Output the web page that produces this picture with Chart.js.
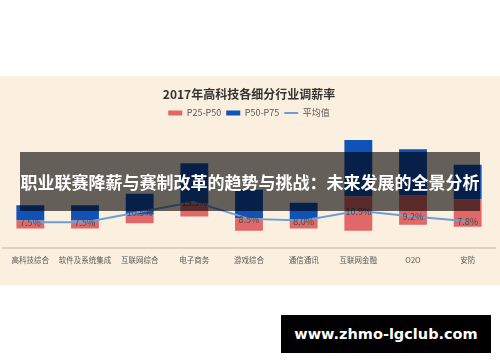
<!DOCTYPE html>
<html>
<head>
<meta charset="utf-8">
<script src="https://cdn.jsdelivr.net/npm/chart.js@4.4.0/dist/chart.umd.min.js"></script>
<style>
    body { margin: 0; background: #ffffff; }
    #page { position: relative; width: 500px; height: 362px; overflow: hidden; }
    #chartBox { position: absolute; left: 0; top: 76px; width: 500px; height: 209px; background: #fbf0df; }
    #banner {
        position: absolute; left: 20px; top: 152px; width: 460px; height: 59px;
        background: rgba(0, 0, 0, 0.6); color: #fff;
        font-family: "Noto Sans CJK SC", sans-serif; font-weight: bold; font-size: 17px;
        line-height: 59px; text-align: center; white-space: nowrap;
    }
    #mark {
        position: absolute; left: 281px; top: 315px; width: 210px; height: 38px;
        background: #000; color: #fff;
        font-family: "DejaVu Sans", sans-serif; font-weight: bold; font-size: 14.5px;
        line-height: 38px; text-align: center;
    }
</style>
</head>
<body>
<div id="page">
    <div id="chartBox"><canvas id="myChart" width="500" height="209"></canvas></div>
    <div id="banner">职业联赛降薪与赛制改革的趋势与挑战：未来发展的全景分析</div>
    <div id="mark">www.zhmo-lgclub.com</div>
</div>
<script>
// Categories and values (percent)
var categories = ['高科技综合', '软件及系统集成', '互联网综合', '电子商务', '游戏综合', '通信通讯', '互联网金融', 'O2O', '安防'];
var p25 = [5.7, 5.7, 7.2, 9.2, 5.0, 5.7, 5.0, 6.8, 6.2];
var p50 = [8.0, 8.0, 9.7, 13.0, 8.7, 8.3, 15.0, 15.5, 14.2];
var p75 = [12.5, 12.5, 15.8, 24.7, 17.0, 13.2, 31.5, 28.8, 24.3];
var average = [7.5, 7.5, 10.5, 13.5, 8.5, 8.0, 10.9, 9.2, 7.8];

var cjk = '"Noto Sans CJK SC", sans-serif';

// Build floating bar ranges
var lowRange = p25.map(function (v, i) { return [v, p50[i]]; });
var highRange = p50.map(function (v, i) { return [v, p75[i]]; });

// Plugin for the % labels on the average line
var avgLabels = {
    id: 'avgLabels',
    afterDatasetsDraw: function (chart) {
        var meta = chart.getDatasetMeta(2);
        var ctx = chart.ctx;
        ctx.save();
        ctx.font = '9px ' + cjk;
        ctx.fillStyle = '#4a4a4a';
        ctx.textAlign = 'center';
        ctx.textBaseline = 'middle';
        meta.data.forEach(function (pt, i) {
            ctx.fillText(average[i].toFixed(1) + '%', pt.x, pt.y + 0.5);
        });
        ctx.restore();
    }
};

var ctx = document.getElementById('myChart').getContext('2d');
var chart = new Chart(ctx, {
    type: 'bar',
    data: {
        labels: categories,
        datasets: [
            {
                label: 'P25-P50',
                data: lowRange,
                backgroundColor: '#e06868',
                borderWidth: 0,
                pointStyle: 'rect'
            },
            {
                label: 'P50-P75',
                data: highRange,
                backgroundColor: '#1152b7',
                borderWidth: 0,
                pointStyle: 'rect'
            },
            {
                type: 'line',
                label: '平均值',
                data: average,
                borderColor: '#6d9fd5',
                backgroundColor: '#6d9fd5',
                borderWidth: 2,
                pointRadius: 0,
                tension: 0,
                pointStyle: 'line',
                order: -1
            }
        ]
    },
    options: {
        responsive: false,
        animation: false,
        layout: { padding: { left: 3, right: 5, top: 0, bottom: 12 } },
        datasets: { bar: { categoryPercentage: 1, barPercentage: 0.51 } },
        plugins: {
            title: {
                display: true,
                text: '2017年高科技各细分行业调薪率',
                color: '#333333',
                font: { family: cjk, size: 12, weight: 'bold' },
                padding: { top: 11, bottom: 2 }
            },
            legend: {
                labels: {
                    font: { family: cjk, size: 9 },
                    color: '#555555',
                    usePointStyle: true,
                    pointStyleWidth: 14,
                    boxHeight: 5,
                    padding: 5,
                    sort: function (a, b) { return a.datasetIndex - b.datasetIndex; }
                }
            },
            tooltip: { enabled: false }
        },
        scales: {
            x: {
                stacked: true,
                grid: { display: false, drawTicks: false },
                border: { display: true, color: '#ddd3c4', width: 2 },
                ticks: { color: '#555555', font: { family: cjk, size: 7.5 }, padding: 8, autoSkip: false, maxRotation: 0 }
            },
            y: {
                display: false,
                min: 0,
                max: 35.2
            }
        }
    },
    plugins: [avgLabels]
});
</script>
</body>
</html>
